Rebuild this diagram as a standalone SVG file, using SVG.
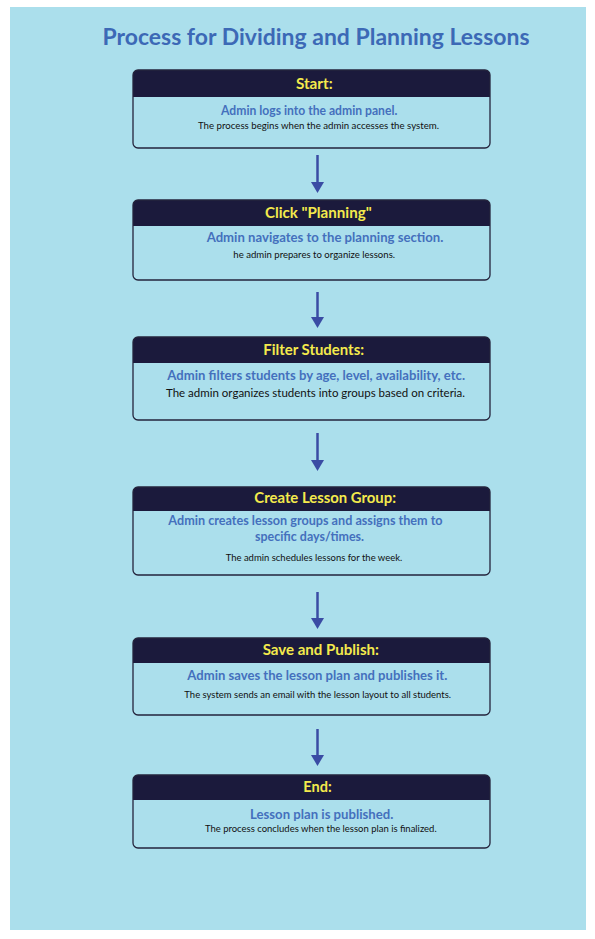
<svg xmlns="http://www.w3.org/2000/svg" width="595" height="939" viewBox="0 0 595 939">
  <defs>
    <style>
      text { font-family: Lato, "Open Sans", "Liberation Sans", sans-serif; text-anchor: middle; }
      .title { font-size: 22px; font-weight: 700; fill: #3c69b6; }
      .head { font-size: 14.5px; font-weight: 700; fill: #f4ea4c; }
      .blue { font-size: 12.5px; font-weight: 700; fill: #4470bd; }
      .body { font-size: 9.5px; fill: #111111; }
      .hdr { fill: #1b1a3c; }
      .frame { fill: none; stroke: #24243c; stroke-width: 1.3; }
      .conn { stroke: #3a4ca4; stroke-width: 2.5; fill: none; marker-end: url(#ah); }
    </style>
    <marker id="ah" viewBox="0 -6.5 11 13" markerWidth="11" markerHeight="13" refX="0" refY="0" markerUnits="userSpaceOnUse" orient="auto">
      <path d="M0,-6.5 L11,0 L0,6.5 Z" fill="#3a4ca4"/>
    </marker>
  </defs>

  <rect x="0" y="0" width="595" height="939" fill="#ffffff"/>
  <rect x="10" y="7" width="576" height="923" fill="#abdfec"/>

  <text class="title" x="316" y="45" textLength="427" lengthAdjust="spacingAndGlyphs">Process for Dividing and Planning Lessons</text>

  <g id="connectors">
    <path class="conn" d="M317.5,155 V182"/>
    <path class="conn" d="M317.5,292 V317"/>
    <path class="conn" d="M317.5,433 V460"/>
    <path class="conn" d="M317.5,592 V618"/>
    <path class="conn" d="M317.5,729 V755"/>
  </g>

  <g id="start">
    <path class="hdr" d="M133,97 V75 Q133,70 138,70 H485 Q490,70 490,75 V97 Z"/>
    <rect class="frame" x="133" y="70" width="357" height="78" rx="5"/>
    <text class="head" x="314.3" y="88.5" textLength="36.7" lengthAdjust="spacingAndGlyphs">Start:</text>
    <text class="blue" x="309.2" y="114.7" textLength="176.3" lengthAdjust="spacingAndGlyphs">Admin logs into the admin panel.</text>
    <text class="body" x="318.5" y="128.7" textLength="241" lengthAdjust="spacingAndGlyphs">The process begins when the admin accesses the system.</text>
  </g>

  <g id="planning">
    <path class="hdr" d="M133,226 V205 Q133,200 138,200 H485 Q490,200 490,205 V226 Z"/>
    <rect class="frame" x="133" y="200" width="357" height="80" rx="5"/>
    <text class="head" x="318.3" y="218.3" textLength="106.7" lengthAdjust="spacingAndGlyphs">Click "Planning"</text>
    <text class="blue" x="325" y="241.7" textLength="236.6" lengthAdjust="spacingAndGlyphs">Admin navigates to the planning section.</text>
    <text class="body" x="314.2" y="258.3" textLength="161.7" lengthAdjust="spacingAndGlyphs">he admin prepares to organize lessons.</text>
  </g>

  <g id="filter">
    <path class="hdr" d="M133,363 V342 Q133,337 138,337 H485 Q490,337 490,342 V363 Z"/>
    <rect class="frame" x="133" y="337" width="357" height="83" rx="5"/>
    <text class="head" x="313.7" y="355.3" textLength="100.7" lengthAdjust="spacingAndGlyphs">Filter Students:</text>
    <text class="blue" x="316.2" y="379.7" textLength="297.7" lengthAdjust="spacingAndGlyphs">Admin filters students by age, level, availability, etc.</text>
    <text class="body" style="font-size:11px" x="315.5" y="397.3" textLength="299" lengthAdjust="spacingAndGlyphs">The admin organizes students into groups based on criteria.</text>
  </g>

  <g id="create">
    <path class="hdr" d="M133,511 V492 Q133,487 138,487 H485 Q490,487 490,492 V511 Z"/>
    <rect class="frame" x="133" y="487" width="357" height="88" rx="5"/>
    <text class="head" x="325.2" y="503" textLength="141.7" lengthAdjust="spacingAndGlyphs">Create Lesson Group:</text>
    <text class="blue" x="305.5" y="525.3" textLength="274.3" lengthAdjust="spacingAndGlyphs">Admin creates lesson groups and assigns them to</text>
    <text class="blue" x="309.5" y="541.3" textLength="109" lengthAdjust="spacingAndGlyphs">specific days/times.</text>
    <text class="body" x="314" y="561.3" textLength="176.7" lengthAdjust="spacingAndGlyphs">The admin schedules lessons for the week.</text>
  </g>

  <g id="publish">
    <path class="hdr" d="M133,663 V643 Q133,638 138,638 H485 Q490,638 490,643 V663 Z"/>
    <rect class="frame" x="133" y="638" width="357" height="77" rx="5"/>
    <text class="head" x="320.8" y="654.7" textLength="116.3" lengthAdjust="spacingAndGlyphs">Save and Publish:</text>
    <text class="blue" x="317.3" y="679.7" textLength="260" lengthAdjust="spacingAndGlyphs">Admin saves the lesson plan and publishes it.</text>
    <text class="body" x="317.7" y="698" textLength="266.7" lengthAdjust="spacingAndGlyphs">The system sends an email with the lesson layout to all students.</text>
  </g>

  <g id="end">
    <path class="hdr" d="M133,800 V780 Q133,775 138,775 H485 Q490,775 490,780 V800 Z"/>
    <rect class="frame" x="133" y="775" width="357" height="73" rx="5"/>
    <text class="head" x="317.5" y="792" textLength="28.3" lengthAdjust="spacingAndGlyphs">End:</text>
    <text class="blue" x="321.7" y="818.7" textLength="143.3" lengthAdjust="spacingAndGlyphs">Lesson plan is published.</text>
    <text class="body" x="320.8" y="832" textLength="231.7" lengthAdjust="spacingAndGlyphs">The process concludes when the lesson plan is finalized.</text>
  </g>
</svg>
